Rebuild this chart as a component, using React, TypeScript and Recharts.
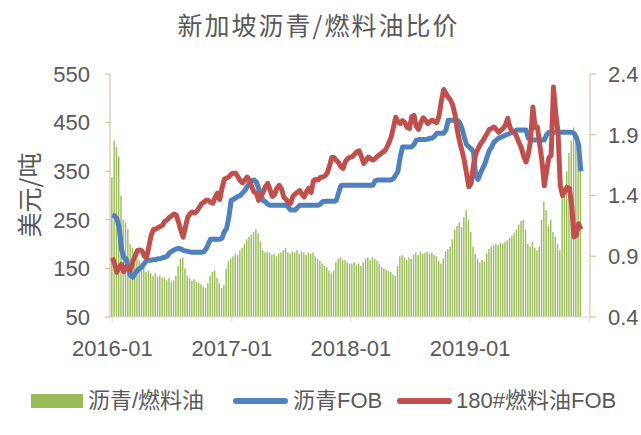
import React from "react";
import { ComposedChart, Bar, Line, XAxis, YAxis } from "recharts";

// weekly points, week 0 = first week of 2016-01
const ratio = [
  1.55, 1.85, 1.8, 1.72, 1.4, 1.2, 1.18, 1.12, 1.0, 0.97,
  0.93, 0.88, 0.87, 0.85, 0.8, 0.77, 0.78, 0.76, 0.74, 0.76,
  0.73, 0.74, 0.72, 0.73, 0.7, 0.72, 0.69, 0.7, 0.74, 0.82,
  0.88, 0.89, 0.8, 0.74, 0.72, 0.7, 0.71, 0.69, 0.68, 0.67,
  0.65, 0.64, 0.68, 0.74, 0.77, 0.78, 0.72, 0.68, 0.64, 0.66,
  0.8, 0.86, 0.88, 0.9, 0.92, 0.91, 0.95, 0.97, 1.0, 1.04,
  1.06, 1.08, 1.1, 1.12, 1.09, 1.02, 0.95, 0.93, 0.94, 0.93,
  0.91, 0.92, 0.9, 0.92, 0.93, 0.95, 0.97, 0.93, 0.92, 0.94,
  0.93, 0.95, 0.92, 0.94, 0.93, 0.91, 0.93, 0.92, 0.93, 0.9,
  0.88, 0.86, 0.84, 0.82, 0.81, 0.78, 0.76, 0.78, 0.85, 0.88,
  0.89, 0.87, 0.87, 0.85, 0.84, 0.84, 0.85, 0.83, 0.84, 0.82,
  0.85, 0.88, 0.89, 0.87, 0.89, 0.88, 0.86, 0.84, 0.81, 0.8,
  0.79, 0.78, 0.77, 0.75, 0.74, 0.82, 0.9, 0.91, 0.89, 0.87,
  0.89, 0.88, 0.91, 0.93, 0.91, 0.94, 0.92, 0.93, 0.94, 0.92,
  0.93, 0.91, 0.9, 0.86, 0.84, 0.88, 0.94, 0.96, 0.98, 1.04,
  1.12, 1.15, 1.18, 1.14, 1.22, 1.28, 1.2, 1.1, 0.98, 0.92,
  0.88, 0.85, 0.87, 0.86, 0.92, 0.96, 0.98, 0.99, 1.0, 0.99,
  1.01, 1.0, 1.02, 1.03, 1.05, 1.07, 1.09, 1.12, 1.16, 1.19,
  1.2, 1.12, 1.0, 0.98, 1.02, 0.97, 0.95, 0.98, 1.2, 1.35,
  1.28, 1.15, 1.2, 1.1, 1.06, 1.0, 0.95, 1.4, 1.45, 1.6,
  1.75, 1.85, 1.96, 1.9, 1.78, 1.62,
];

const asphaltFob = [
  260, 258, 252, 235, 190, 173, 170, 150, 135, 132,
  140, 146, 150, 153, 160, 166, 167, 167, 168, 168,
  170, 170, 172, 173, 175, 182, 185, 188, 190, 191,
  190, 187, 186, 185, 184, 183, 183, 183, 183, 183,
  184, 190, 200, 210, 210, 210, 210, 210, 212, 225,
  232, 255, 290, 292, 295, 298, 300, 305, 310, 318,
  325, 330, 332, 328, 315, 300, 290, 287, 282, 280,
  280, 280, 280, 280, 280, 280, 280, 276, 270, 270,
  270, 275, 280, 280, 280, 280, 280, 280, 280, 280,
  280, 282, 287, 288, 288, 288, 288, 288, 290, 305,
  320, 321, 321, 321, 321, 321, 321, 321, 321, 321,
  321, 321, 321, 321, 321, 330, 332, 332, 332, 332,
  332, 332, 332, 335, 342, 350, 380, 400, 400, 400,
  400, 400, 405, 414, 415, 415, 415, 415, 416, 418,
  418, 422, 428, 428, 428, 428, 435, 455, 455, 455,
  455, 455, 450, 438, 420, 405, 400, 396, 390, 340,
  333, 345, 355, 365, 380, 393, 400, 410, 414, 418,
  420, 422, 424, 426, 428, 430, 432, 435, 435, 435,
  435, 435, 418, 414, 414, 414, 414, 414, 414, 414,
  425, 430, 430, 430, 430, 430, 430, 430, 430, 430,
  430, 430, 428, 420, 405, 350,
];

const fuelOilFob = [
  172, 160, 142, 152, 158, 143, 153, 152, 147, 165,
  175, 187, 188, 186, 175, 172, 195, 218, 230, 231,
  234, 236, 239, 247, 250, 255, 258, 262, 260, 245,
  228, 214, 235, 255, 262, 266, 264, 268, 275, 283,
  286, 290, 290, 286, 284, 296, 305, 292, 315, 333,
  336, 338, 344, 346, 346, 338, 330, 326, 332, 338,
  332, 318, 307, 306, 290, 298, 307, 318, 325, 312,
  298, 302, 315, 321, 314, 297, 292, 286, 284, 298,
  303, 307, 310, 302, 297, 308, 315, 306, 330, 333,
  332, 337, 338, 340, 346, 360, 378, 378, 372, 368,
  359, 356, 370, 376, 379, 380, 385, 390, 392, 380,
  366, 372, 379, 376, 373, 376, 381, 384, 388, 391,
  398, 408, 420, 440, 461, 452, 448, 454, 450, 440,
  438, 462, 465, 442, 436, 450, 460, 455, 448, 452,
  455, 452, 450, 465, 495, 518, 510, 502, 496, 485,
  465, 432, 410, 392, 372, 345, 318, 325, 362, 385,
  396, 405, 412, 420, 428, 436, 438, 441, 436, 430,
  434, 438, 445, 459, 440, 432, 430, 420, 408, 398,
  380, 369, 385, 414, 482, 440, 441, 405, 370, 320,
  350, 378, 382, 523, 470, 430, 320, 300, 310, 317,
  315, 280, 215, 218, 242, 230,
];

// x ticks in weeks since 2016-01
const xTicks = [0, 52.3, 104.4, 156.6, 208.7];
const xTickLabels = ["2016-01", "2017-01", "2018-01", "2019-01", ""];
const leftTicks = [50, 150, 250, 350, 450, 550];
const rightTicks = [0.4, 0.9, 1.4, 1.9, 2.4];

const data = ratio.map((r, i) => ({
  week: i,
  ratio: r,
  asphalt: asphaltFob[i],
  fuel: fuelOilFob[i],
}));

const FONT = '"Liberation Sans", "Noto Sans CJK SC", sans-serif';
const TEXT = "#595959";
const GREEN = "#9bbb59";
const BLUE = "#4f81bd";
const RED = "#c0504d";
const AXIS_TAN = "#c9bd8f";

const tickStyle = { fill: TEXT, fontSize: 22, fontFamily: FONT };

const legendText: React.CSSProperties = {
  position: "absolute",
  top: 386,
  fontSize: 22,
  lineHeight: "30px",
  color: TEXT,
  fontFamily: FONT,
  whiteSpace: "nowrap",
};

const App: React.FC = () => {
  return (
    <div style={{ position: "absolute", left: 0, top: 0, width: 641, height: 435, background: "#fff" }}>
      <div
        style={{
          position: "absolute",
          top: 6,
          left: 0,
          width: 637,
          textAlign: "center",
          fontSize: 25,
          letterSpacing: 2,
          color: TEXT,
          fontFamily: '"Noto Sans CJK SC", sans-serif',
          lineHeight: "36px",
        }}
      >
        新加坡沥青/燃料油比价
      </div>
      <div
        style={{
          position: "absolute",
          left: 28,
          top: 195,
          transform: "translate(-50%, -50%) rotate(-90deg)",
          fontSize: 25,
          color: TEXT,
          fontFamily: '"Noto Sans CJK SC", sans-serif',
          whiteSpace: "nowrap",
        }}
      >
        美元/吨
      </div>
      <ComposedChart
        width={641}
        height={435}
        data={data}
        margin={{ top: 74, right: 0, bottom: 78, left: 0 }}
        style={{ position: "absolute", left: 0, top: 0 }}
      >
        <XAxis
          dataKey="week"
          type="number"
          domain={[-1, 209]}
          ticks={xTicks}
          tickFormatter={(v, i) => xTickLabels[i]}
          height={40}
          stroke="#d9d9d9"
          tickSize={5}
          tickMargin={18}
          tick={tickStyle}
          interval={0}
        />
        <YAxis
          yAxisId="left"
          domain={[50, 550]}
          ticks={leftTicks}
          width={110}
          stroke={AXIS_TAN}
          tickSize={5}
          tickMargin={15}
          tick={tickStyle}
          interval={0}
        />
        <YAxis
          yAxisId="right"
          orientation="right"
          domain={[0.4, 2.4]}
          ticks={rightTicks}
          tickFormatter={(v) => v.toFixed(1)}
          width={51}
          stroke={AXIS_TAN}
          tickSize={6}
          tickMargin={12}
          tick={tickStyle}
          interval={0}
        />
        <Bar yAxisId="right" dataKey="ratio" fill={GREEN} barSize={1.4} isAnimationActive={false} />
        <Line
          yAxisId="left"
          dataKey="asphalt"
          type="linear"
          stroke={BLUE}
          strokeWidth={5}
          dot={false}
          strokeLinejoin="round"
          isAnimationActive={false}
        />
        <Line
          yAxisId="left"
          dataKey="fuel"
          type="linear"
          stroke={RED}
          strokeWidth={5}
          dot={false}
          strokeLinejoin="round"
          isAnimationActive={false}
        />
      </ComposedChart>
      {/* legend */}
      <div style={{ position: "absolute", left: 31, top: 394, width: 52, height: 14, background: GREEN }} />
      <div style={{ ...legendText, left: 88 }}>沥青/燃料油</div>
      <div style={{ position: "absolute", left: 233, top: 398, width: 55, height: 6, borderRadius: 3, background: BLUE }} />
      <div style={{ ...legendText, left: 293 }}>沥青FOB</div>
      <div style={{ position: "absolute", left: 397, top: 398, width: 55, height: 6, borderRadius: 3, background: RED }} />
      <div style={{ ...legendText, left: 456 }}>180#燃料油FOB</div>
    </div>
  );
};

export default App;
